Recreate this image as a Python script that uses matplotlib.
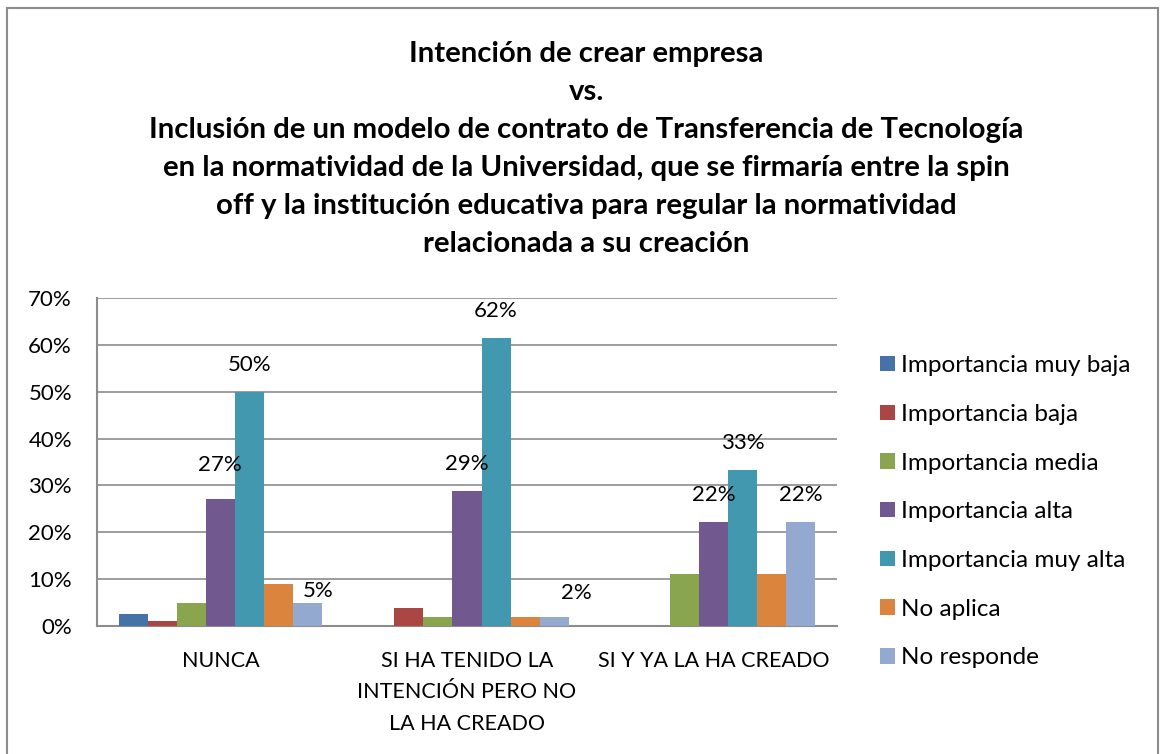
import matplotlib.pyplot as plt
import matplotlib.patches as mpatches
import numpy as np

plt.rcParams['font.family'] = ['Lato', 'DejaVu Sans']

categories = ['NUNCA', 'SI HA TENIDO LA\nINTENCIÓN PERO NO\nLA HA CREADO', 'SI Y YA LA HA CREADO']
series = ['Importancia muy baja', 'Importancia baja', 'Importancia media',
          'Importancia alta', 'Importancia muy alta', 'No aplica', 'No responde']
colors = ['#4572A7', '#AA4643', '#89A54E', '#71588F', '#4198AF', '#DB843D', '#93A9CF']

muy_baja = [0.025, 0.0, 0.0]
baja = [0.011, 0.038, 0.0]
media = [0.05, 0.019, 0.111]
alta = [0.27, 0.288, 0.222]
muy_alta = [0.50, 0.615, 0.333]
no_aplica = [0.09, 0.019, 0.111]
no_responde = [0.05, 0.019, 0.222]
values = [muy_baja, baja, media, alta, muy_alta, no_aplica, no_responde]

# which series get a value label
labeled = [3, 4, 6]

title = ('Intención de crear empresa\nvs.\n'
         'Inclusión de un modelo de contrato de Transferencia de Tecnología\n'
         'en la normatividad de la Universidad, que se firmaría entre la spin\n'
         'off y la institución educativa para regular la normatividad\n'
         'relacionada a su creación')

fig = plt.figure(figsize=(11.63, 7.54), dpi=100)
ax = fig.add_axes([0.0834, 0.1698, 0.6363, 0.435])

x = np.arange(len(categories))
w = 0.1176
for i, (vals, c) in enumerate(zip(values, colors)):
    pos = x + (i - 3) * w
    ax.bar(pos, vals, width=w, color=c, label=series[i], zorder=3)
    if i in labeled:
        for j, v in enumerate(vals):
            dx, dy = 0, 19.5
            # a few labels were nudged in the original
            if i == 3 and j == 0:
                dy = 24.5
            if i == 6 and j == 0:
                dx, dy = 8, 8
            if i == 6 and j == 1:
                dx, dy = 16, 17
            ax.annotate(f'{v*100:.0f}%', (pos[j], v), xytext=(dx, dy),
                        textcoords='offset points', ha='center', va='center',
                        fontsize=16, zorder=4)

ax.set_xlim(-0.5, 2.5)
ax.set_ylim(0, 0.7)
ax.set_yticks(np.arange(0, 0.71, 0.1))
ax.set_yticklabels([f'{t}%' for t in range(0, 71, 10)], fontsize=16)
ax.set_xticks(x)
ax.set_xticklabels(categories, fontsize=15.5, linespacing=1.72)
ax.tick_params(axis='x', length=0, pad=18)
ax.tick_params(axis='y', length=0, pad=18)
ax.grid(axis='y', color='#8c8c8c', linewidth=1.2, zorder=0)
for s in ['top', 'right']:
    ax.spines[s].set_visible(False)
for s in ['left', 'bottom']:
    ax.spines[s].set_color('#8c8c8c')
    ax.spines[s].set_linewidth(1.5)

fig.text(0.504, 0.945, title, ha='center', va='top', fontsize=21.2,
         fontweight='bold', linespacing=1.57)

leg = ax.legend(loc='center left', bbox_to_anchor=(1.058, 0.348), frameon=False,
                fontsize=17.5, handlelength=0.6, handleheight=0.6,
                labelspacing=1.14, handletextpad=0.25, borderpad=0,
                borderaxespad=0)

fig.patches.append(mpatches.Rectangle((0.006, -0.05), 0.99, 1.039,
                                      transform=fig.transFigure, fill=False,
                                      edgecolor='#8c8c8c', linewidth=1.5))

fig.savefig('out.png', dpi=100)
